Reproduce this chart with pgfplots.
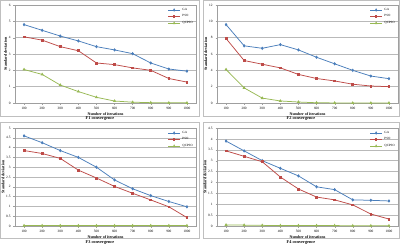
\documentclass[border=0pt]{standalone}
\usepackage{fontspec}
\setmainfont{Liberation Serif}
\usepackage{pgfplots}
\pgfplotsset{compat=1.18}
\definecolor{gaC}{HTML}{4A7EBB}
\definecolor{psoC}{HTML}{BE4B48}
\definecolor{qcC}{HTML}{98B954}
\definecolor{frameC}{HTML}{BFBFBF}
\pgfplotsset{
  panel/.style={
    scale only axis, width=181pt, height=98pt,
    xmin=50, xmax=1050, xtick={100,200,...,1000}, ymin=0,
    ymajorgrids, grid style={draw=gray!55, line width=0.5pt},
    axis line style={draw=gray!75, line width=0.4pt},
    tick style={draw=gray!75, line width=0.3pt}, tick align=outside,
    major tick length=1.5pt,
    xtick pos=bottom, ytick pos=left,
    tick label style={font=\fontsize{3.4}{4}\selectfont},
    /pgf/number format/assume math mode=true,
    /pgf/number format/1000 sep={},
    xticklabel style={yshift=0.5pt},
    yticklabel style={xshift=0.5pt},
    xlabel={Number of iterations}, ylabel={Standard deviation},
    xlabel style={font=\fontsize{4}{4.5}\selectfont\bfseries, yshift=4.5pt},
    ylabel style={font=\fontsize{4}{4.5}\selectfont\bfseries, yshift=-5pt},
    legend style={at={(1,1)}, anchor=north east, draw=none, fill=none,
      font=\fontsize{3.2}{3.6}\selectfont, row sep=-1pt, inner sep=1pt},
    legend cell align=left,
    legend image post style={xscale=0.7},
    every axis plot/.append style={line width=0.75pt, mark size=1.1pt},
  },
  ga/.style={color=gaC, mark=diamond*},
  pso/.style={color=psoC, mark=square*, mark size=0.9pt},
  qc/.style={color=qcC, mark=triangle*},
}
\begin{document}
\begin{tikzpicture}[x=1pt,y=1pt]
\useasboundingbox (0,0) rectangle (400,-247);
\fill[white] (0,0) rectangle (400,-247);
% frames
\draw[frameC, line width=0.4pt] (0.5,-0.5) rectangle (199.5,-116);
\draw[frameC, line width=0.4pt] (203,-0.5) rectangle (399.5,-116);
\draw[frameC, line width=0.4pt] (0.5,-122) rectangle (199.5,-238);
\draw[frameC, line width=0.4pt] (203,-122) rectangle (399.5,-238);
\node[font=\fontsize{4.3}{5}\selectfont\bfseries] at (100,-119) {F1 convergence};
\node[font=\fontsize{4.3}{5}\selectfont\bfseries] at (301,-119) {F2 convergence};
\node[font=\fontsize{4.3}{5}\selectfont\bfseries] at (100,-243) {F3 convergence};
\node[font=\fontsize{4.3}{5}\selectfont\bfseries] at (301,-243) {F4 convergence};

% F1
\begin{axis}[panel, at={(15pt,-103pt)}, anchor=south west, ymax=6, ytick={0,1,...,6}]
\addplot[ga] coordinates {(100,4.8)(200,4.45)(300,4.1)(400,3.8)(500,3.45)(600,3.25)(700,3.02)(800,2.45)(900,2.08)(1000,1.95)};
\addplot[pso] coordinates {(100,4.05)(200,3.85)(300,3.45)(400,3.2)(500,2.45)(600,2.35)(700,2.15)(800,2.0)(900,1.5)(1000,1.28)};
\addplot[qc] coordinates {(100,2.05)(200,1.75)(300,1.1)(400,0.7)(500,0.35)(600,0.12)(700,0.05)(800,0.02)(900,0.01)(1000,0.01)};
\legend{GA,PSO,QCPSO}
\end{axis}

% F2
\begin{axis}[panel, at={(217pt,-103pt)}, anchor=south west, ymax=12, ytick={0,2,...,12}]
\addplot[ga] coordinates {(100,9.6)(200,7.0)(300,6.7)(400,7.15)(500,6.5)(600,5.6)(700,4.8)(800,4.0)(900,3.3)(1000,2.98)};
\addplot[pso] coordinates {(100,7.9)(200,5.2)(300,4.75)(400,4.3)(500,3.5)(600,3.0)(700,2.7)(800,2.3)(900,2.08)(1000,2.0)};
\addplot[qc] coordinates {(100,4.1)(200,1.85)(300,0.6)(400,0.25)(500,0.12)(600,0.03)(700,0.01)(800,0)(900,0)(1000,0)};
\legend{GA,PSO,QCPSO}
\end{axis}

% F3
\begin{axis}[panel, at={(15pt,-226pt)}, anchor=south west, ymax=5, ytick={0,0.5,...,5}]
\addplot[ga] coordinates {(100,4.6)(200,4.25)(300,3.85)(400,3.5)(500,3.0)(600,2.35)(700,1.9)(800,1.55)(900,1.25)(1000,0.98)};
\addplot[pso] coordinates {(100,3.85)(200,3.7)(300,3.45)(400,2.85)(500,2.45)(600,2.02)(700,1.67)(800,1.33)(900,0.98)(1000,0.43)};
\addplot[qc] coordinates {(100,0.02)(200,0.02)(300,0.02)(400,0.02)(500,0.02)(600,0.02)(700,0.02)(800,0.02)(900,0.02)(1000,0.02)};
\legend{GA,PSO,QCPSO}
\end{axis}

% F4
\begin{axis}[panel, at={(217pt,-226pt)}, anchor=south west, ymax=4.5, ytick={0,0.5,...,4.5}]
\addplot[ga] coordinates {(100,3.9)(200,3.45)(300,3.0)(400,2.65)(500,2.3)(600,1.8)(700,1.67)(800,1.2)(900,1.18)(1000,1.15)};
\addplot[pso] coordinates {(100,3.45)(200,3.2)(300,2.95)(400,2.25)(500,1.7)(600,1.33)(700,1.2)(800,0.97)(900,0.55)(1000,0.32)};
\addplot[qc] coordinates {(100,0.05)(200,0.04)(300,0.03)(400,0.02)(500,0.02)(600,0.02)(700,0.02)(800,0.01)(900,0.01)(1000,0.01)};
\legend{GA,PSO,QCPSO}
\end{axis}
\end{tikzpicture}
\end{document}
